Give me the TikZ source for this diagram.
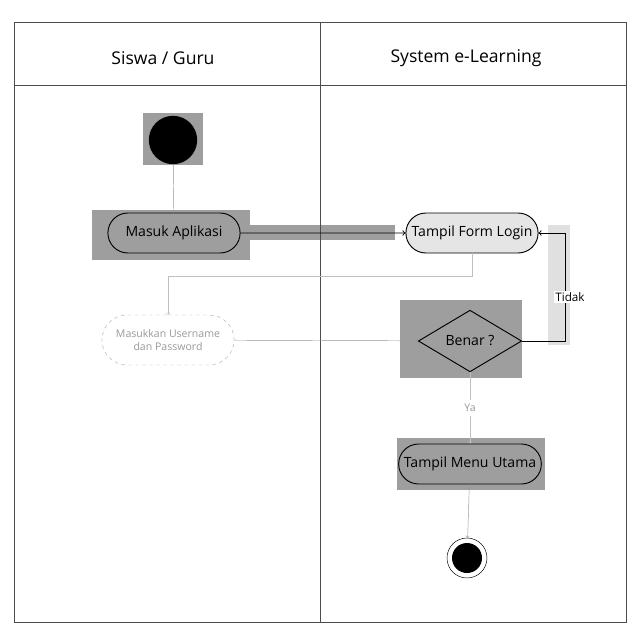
\documentclass[tikz,border=0pt]{standalone}
\usepackage{fontspec}
\setmainfont{Open Sans}
\usetikzlibrary{shapes.geometric,shapes.misc}

\begin{document}
\begin{tikzpicture}[x=0.03cm,y=-0.03cm,
  act/.style={draw,rounded rectangle,minimum width=4.2cm,minimum height=1.2cm,font=\large,thick},
  hl/.style={fill=black!38},
  flow/.style={->,thin,black!70}]

  \useasboundingbox (0,0) rectangle (640,640);
  \fill[white] (0,0) rectangle (640,640);

  % highlight
  \fill[hl] (143,113) rectangle (203,165);
  \fill[hl] (92,210) rectangle (250,260);
  \fill[hl] (245,225) rectangle (395,240);
  \fill[black!12] (548,225) rectangle (570,345);
  \fill[hl] (400,300) rectangle (522,378);
  \fill[hl] (397,438) rectangle (545,490);

  % lanes
  \draw[black!70] (14,22) rectangle (626,622);
  \draw[black!70] (14,85) -- (626,85);
  \draw[black!70] (320,22) -- (320,622);
  \node[font=\fontsize{15}{18}\selectfont] (laneA) at (163,58) {Siswa / Guru};
  \node[font=\fontsize{15}{18}\selectfont] (laneB) at (466,58) {System e-Learning};

  \node[circle,fill=black,minimum size=1.45cm,inner sep=0pt] (start) at (173,140) {};
  \node[act] (masuk) at (174,233) {Masuk Aplikasi};
  \node[act,fill=black!10] (form) at (472,233) {Tampil Form Login};
  \node[act,draw=black!30,dashed,thin,text=black!40,minimum height=1.5cm,align=center,font=\small] (input) at (168,340) {Masukkan Username\\dan Password};
  \node[diamond,draw,thick,aspect=1.6,minimum width=3.1cm,minimum height=1.85cm,inner sep=0pt,font=\large] (benar) at (470,341) {Benar ?};
  \node[act] (menu) at (470,464) {Tampil Menu Utama};
  \node[circle,draw,minimum size=1.2cm,inner sep=0pt] (stop) at (467,558) {};
  \node[circle,fill=black,minimum size=0.9cm,inner sep=0pt] at (stop) {};

  \draw[flow,black!40] (start) -- (masuk);
  \draw[->,thick] (masuk) -- (form);
  \draw[flow,black!25] (form.south) -- ++(0,23) -| (input.north);
  \draw[flow,black!40] (input) -- (benar);
  \draw[->,thick] (benar.east) -- ++(43,0) |- (form.east);
  \node[fill=white,inner sep=1pt] (tidak) at (570,297) {Tidak};
  \draw[flow,black!25] (benar.south) -- node[fill=white,font=\small,text=black!40] (ya) {Ya} (menu.north);
  \draw[flow,black!40] (menu) -- (stop);

\end{tikzpicture}
\end{document}
